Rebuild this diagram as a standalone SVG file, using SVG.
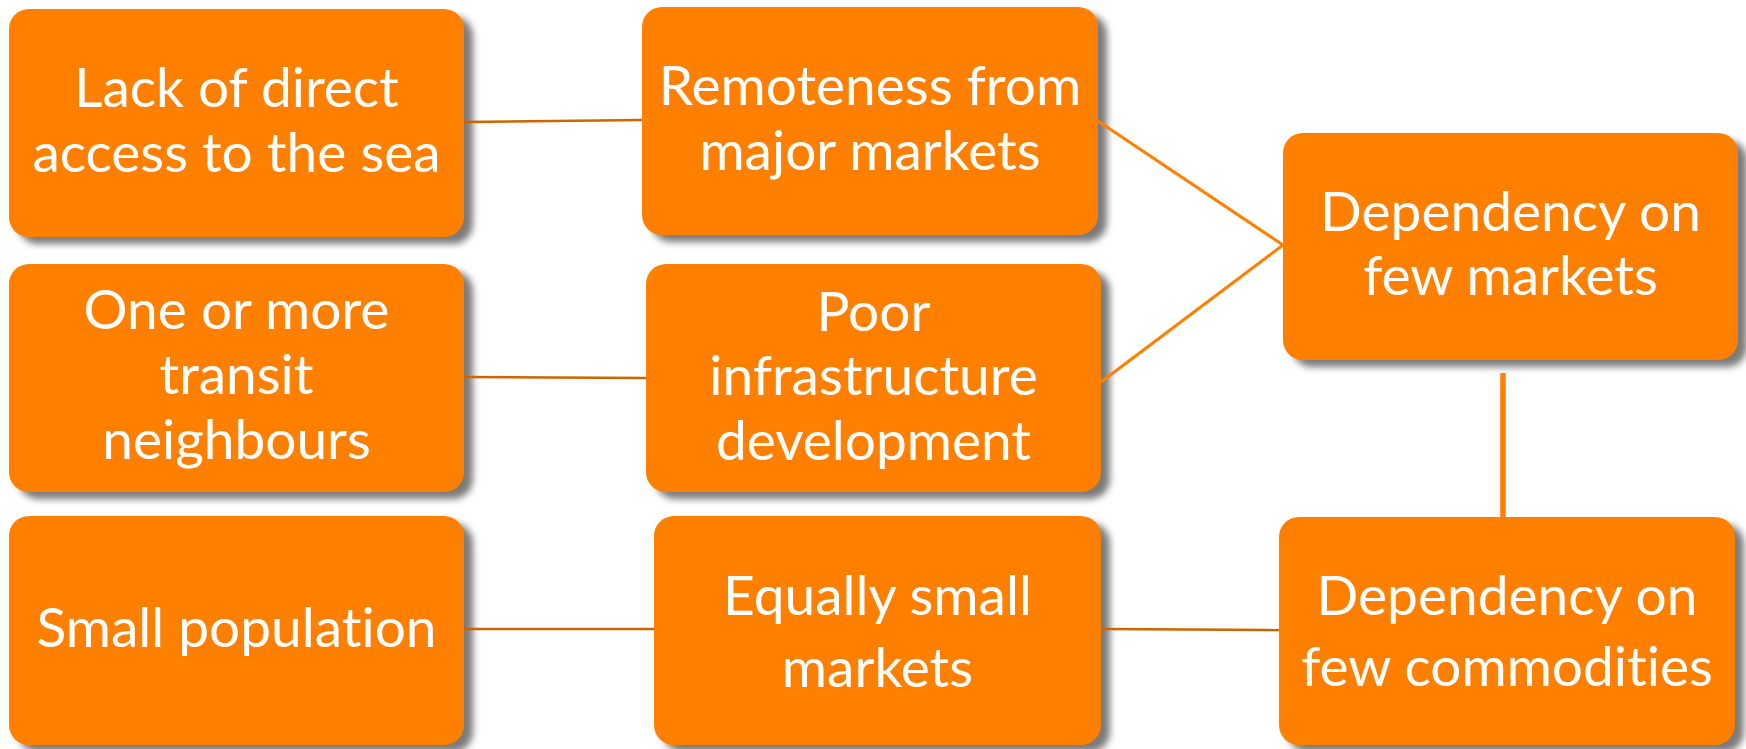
<svg xmlns="http://www.w3.org/2000/svg" width="1746" height="749" viewBox="0 0 1746 749">
  <defs>
    <filter id="soft" x="-10%" y="-10%" width="130%" height="130%">
      <feGaussianBlur stdDeviation="3.5"/>
    </filter>
    <style>
      .box { fill: #FF7F00; }
      .shadow { fill: #7A7A7A; filter: url(#soft); }
      .label { font-family: Lato, "Open Sans", "Liberation Sans", sans-serif; font-size: 55px; fill: #FFFFFF; text-anchor: middle; font-variant-ligatures: none; font-feature-settings: "liga" 0; }
      .link { stroke: #D06400; stroke-width: 2.5; fill: none; }
      .link-bright { stroke: #FF7F00; stroke-width: 3; fill: none; }
      .link-thick { stroke: #FF7F00; stroke-width: 5.5; fill: none; }
    </style>
  </defs>
  <rect width="1746" height="749" fill="#FFFFFF"/>

  <g id="node-sea-access">
    <rect class="shadow" x="18" y="16" width="455" height="228" rx="20"/>
    <rect class="box" x="9" y="9" width="455" height="228" rx="20"/>
    <text class="label" x="236.5" y="107">Lack of direct</text>
    <text class="label" x="236.5" y="172">access to the sea</text>
  </g>

  <g id="node-remoteness">
    <rect class="shadow" x="651" y="14" width="456" height="228" rx="20"/>
    <rect class="box" x="642" y="7" width="456" height="228" rx="20"/>
    <text class="label" x="870" y="105">Remoteness from</text>
    <text class="label" x="870" y="170">major markets</text>
  </g>

  <g id="node-few-markets">
    <rect class="shadow" x="1292" y="140" width="455" height="227" rx="20"/>
    <rect class="box" x="1283" y="133" width="455" height="227" rx="20"/>
    <text class="label" x="1510.5" y="231">Dependency on</text>
    <text class="label" x="1510.5" y="295">few markets</text>
  </g>

  <g id="node-transit">
    <rect class="shadow" x="18" y="271" width="455" height="228" rx="20"/>
    <rect class="box" x="9" y="264" width="455" height="228" rx="20"/>
    <text class="label" x="236.5" y="329">One or more</text>
    <text class="label" x="236.5" y="394">transit</text>
    <text class="label" x="236.5" y="459">neighbours</text>
  </g>

  <g id="node-infrastructure">
    <rect class="shadow" x="655" y="271" width="455" height="228" rx="20"/>
    <rect class="box" x="646" y="264" width="455" height="228" rx="20"/>
    <text class="label" x="873.5" y="331">Poor</text>
    <text class="label" x="873.5" y="395">infrastructure</text>
    <text class="label" x="873.5" y="460">development</text>
  </g>

  <g id="node-population">
    <rect class="shadow" x="18" y="523" width="455" height="229" rx="20"/>
    <rect class="box" x="9" y="516" width="455" height="229" rx="20"/>
    <text class="label" x="236.5" y="647">Small population</text>
  </g>

  <g id="node-small-markets">
    <rect class="shadow" x="663" y="523" width="447" height="229" rx="20"/>
    <rect class="box" x="654" y="516" width="447" height="229" rx="20"/>
    <text class="label" x="877.5" y="615">Equally small</text>
    <text class="label" x="877.5" y="687">markets</text>
  </g>

  <g id="node-few-commodities">
    <rect class="shadow" x="1288" y="524" width="456" height="228" rx="20"/>
    <rect class="box" x="1279" y="517" width="456" height="228" rx="20"/>
    <text class="label" x="1507" y="615">Dependency on</text>
    <text class="label" x="1507" y="686">few commodities</text>
  </g>

  <g id="connectors">
    <line class="link" x1="464" y1="122" x2="642" y2="120"/>
    <line class="link-bright" x1="1098" y1="121" x2="1283" y2="245"/>
    <line class="link-bright" x1="1101" y1="382" x2="1283" y2="245"/>
    <line class="link" x1="464" y1="377" x2="646" y2="378"/>
    <line class="link" x1="464" y1="629" x2="654" y2="629"/>
    <line class="link" x1="1101" y1="629" x2="1279" y2="630"/>
    <line class="link-thick" x1="1503" y1="373" x2="1503" y2="517"/>
  </g>
</svg>
